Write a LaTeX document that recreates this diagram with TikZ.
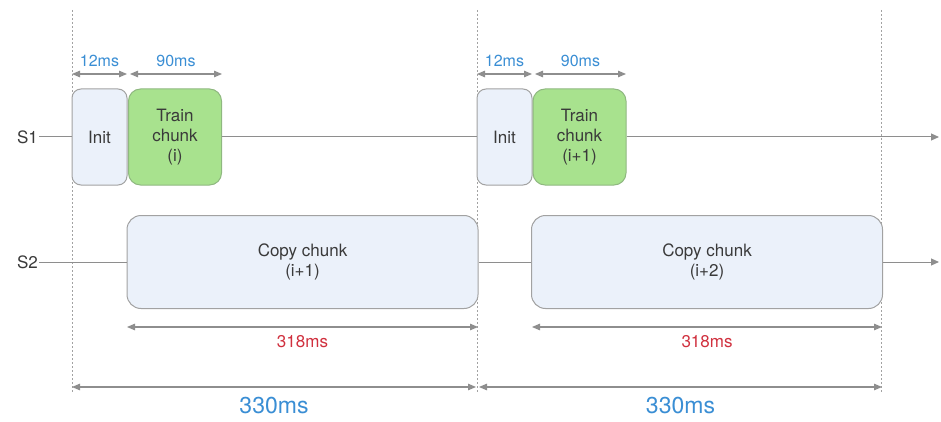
\documentclass[tikz,border=0pt]{standalone}
\usepackage{fontspec}
\setmainfont{TeX Gyre Heros}
\usetikzlibrary{arrows.meta}
\definecolor{linegray}{HTML}{8E8E8E}
\definecolor{boxedge}{HTML}{A2A2A2}
\definecolor{palefill}{HTML}{EBF1FA}
\definecolor{greenfill}{HTML}{A8E28E}
\definecolor{greenedge}{HTML}{8FB880}
\definecolor{txtgray}{HTML}{3A3A3A}
\definecolor{dimblue}{HTML}{3A8ED4}
\definecolor{dimred}{HTML}{D0303E}
\tikzset{
  body/.style={font=\fontsize{17}{20}\selectfont, text=txtgray},
  initbox/.style={draw=boxedge, fill=palefill, line width=1pt, rounded corners=9pt,
    minimum width=55pt, minimum height=96pt, inner sep=0pt, body},
  trainbox/.style={draw=greenedge, fill=greenfill, line width=1pt, rounded corners=12pt,
    minimum width=93pt, minimum height=96pt, inner sep=0pt, body, align=center},
  copybox/.style={draw=boxedge, fill=palefill, line width=1pt, rounded corners=14pt,
    minimum width=351pt, minimum height=93pt, inner sep=0pt, body, align=center},
  lane/.style={draw=linegray, line width=1pt},
  lanearrow/.style={lane, -{Triangle[length=8pt,width=7pt]}},
  guide/.style={draw=boxedge, line width=0.9pt, dash pattern=on 2pt off 2pt},
  dim/.style={draw=linegray, line width=1.1pt, {Triangle[length=8pt,width=6.5pt]}-{Triangle[length=8pt,width=6.5pt]}},
  smalldim/.style={font=\fontsize{16}{18}\selectfont, text=dimblue},
  reddim/.style={font=\fontsize{17}{19}\selectfont, text=dimred},
  bigdim/.style={font=\fontsize{23}{26}\selectfont, text=dimblue},
  lanelabel/.style={font=\fontsize{17}{19}\selectfont, text=txtgray, inner sep=1pt}
}
\begin{document}
\begin{tikzpicture}[x=1pt,y=-1pt]
\useasboundingbox (0,0) rectangle (941,422);

% period boundaries
\coordinate (g1t) at (72,10);   \coordinate (g1b) at (72,392);
\coordinate (g2t) at (477,10);  \coordinate (g2b) at (477,392);
\coordinate (g3t) at (881,10);  \coordinate (g3b) at (881,392);
\draw[guide] (g1t) -- (g1b);
\draw[guide] (g2t) -- (g2b);
\draw[guide] (g3t) -- (g3b);

% lane labels
\node[lanelabel, anchor=east] (s1) at (39,137) {S1};
\node[lanelabel, anchor=east] (s2) at (39,262) {S2};
\coordinate (s1end) at (939,137);
\coordinate (s2end) at (939,262);

% stream 1 boxes
\node[initbox]  (init1)  at (99.5,137) {Init};
\node[trainbox] (train1) at (175,137) {Train\\chunk\\(i)};
\node[initbox]  (init2)  at (504.5,137) {Init};
\node[trainbox] (train2) at (579.5,137) {Train\\chunk\\(i+1)};

% stream 2 boxes
\node[copybox] (copy1) at (302.5,262) {Copy chunk\\(i+1)};
\node[copybox] (copy2) at (707,262) {Copy chunk\\(i+2)};

% lanes
\draw[lane] (s1.east) -- (init1.west);
\draw[lane] (train1.east) -- (init2.west);
\draw[lanearrow] (train2.east) -- (s1end);
\draw[lane] (s2.east) -- (copy1.west);
\draw[lane] (copy1.east) -- (copy2.west);
\draw[lanearrow] (copy2.east) -- (s2end);

% short durations above stream 1
\coordinate (a1) at (72,74);  \coordinate (a2) at (127,74);
\coordinate (a3) at (130,74); \coordinate (a4) at (222,74);
\coordinate (a5) at (477,74); \coordinate (a6) at (532,74);
\coordinate (a7) at (535,74); \coordinate (a8) at (626,74);
\draw[dim] (a1) -- node[smalldim, above=3pt] (d12a) {12ms} (a2);
\draw[dim] (a3) -- node[smalldim, above=3pt] (d90a) {90ms} (a4);
\draw[dim] (a5) -- node[smalldim, above=3pt] (d12b) {12ms} (a6);
\draw[dim] (a7) -- node[smalldim, above=3pt] (d90b) {90ms} (a8);

% copy durations
\coordinate (c1) at (127,327); \coordinate (c2) at (478,327);
\coordinate (c3) at (532,327); \coordinate (c4) at (882,327);
\draw[dim] (c1) -- node[reddim, below=5pt] (d318a) {318ms} (c2);
\draw[dim] (c3) -- node[reddim, below=5pt] (d318b) {318ms} (c4);

% full periods
\coordinate (p1) at (72,387);  \coordinate (p2) at (476,387);
\coordinate (p3) at (479,387); \coordinate (p4) at (882,387);
\draw[dim] (p1) -- node[bigdim, below=6pt] (d330a) {330ms} (p2);
\draw[dim] (p3) -- node[bigdim, below=6pt] (d330b) {330ms} (p4);
\end{tikzpicture}
\end{document}
